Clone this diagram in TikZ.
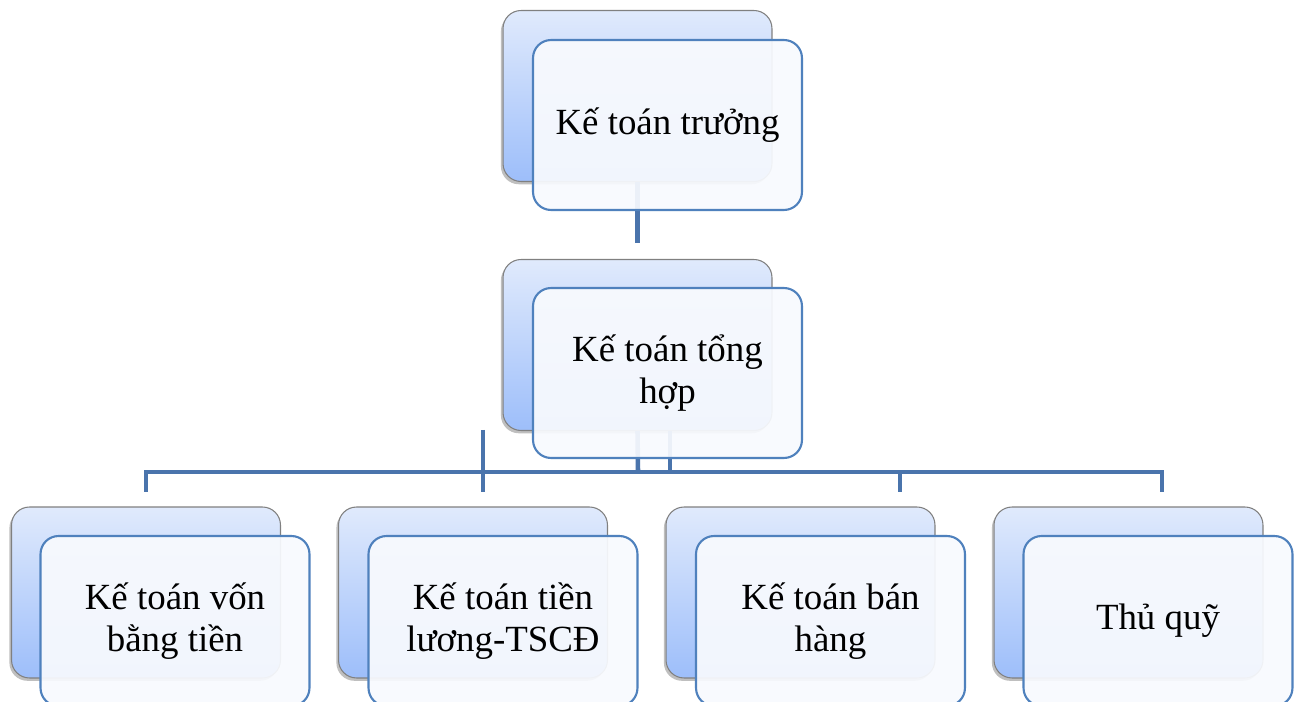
\documentclass[tikz,border=0pt]{standalone}
\usepackage{fontspec}
\setmainfont{Liberation Serif}
\usetikzlibrary{shadows}

\definecolor{linkblue}{HTML}{4A74AC}
\definecolor{frameblue}{HTML}{4F81BD}
\definecolor{backtop}{HTML}{E0EAFC}
\definecolor{backbot}{HTML}{9DBEFA}
\definecolor{frontfill}{HTML}{F8FAFE}

\tikzset{
  backbox/.style={rectangle, rounded corners=0.36cm, minimum width=5.38cm, minimum height=3.42cm,
    draw=gray, line width=0.6pt, top color=backtop, bottom color=backbot,
    drop shadow={shadow xshift=-1.2pt, shadow yshift=-1.6pt, opacity=0.5}},
  frontbox/.style={rectangle, rounded corners=0.36cm, minimum width=5.38cm, minimum height=3.4cm,
    draw=frameblue, line width=1.2pt, fill=frontfill, fill opacity=0.93, text opacity=1,
    align=center, font=\fontsize{21}{23.5}\selectfont},
  link/.style={draw=linkblue, line width=2.6pt}
}

\begin{document}
\begin{tikzpicture}[x=0.02cm, y=-0.02cm]
    \useasboundingbox (0,0) rectangle (1299,702);
    \fill[white] (0,0) rectangle (1299,702);
    \clip (0,0) rectangle (1299,702);

    % back cards
    \node[backbox] (truong-b) at (637.5,96) {};
    \node[backbox] (tonghop-b) at (637.5,345) {};
    \node[backbox] (von-b) at (146,592.5) {};
    \node[backbox] (luong-b) at (473,592.5) {};
    \node[backbox] (banhang-b) at (800.5,592.5) {};
    \node[backbox] (thuquy-b) at (1128.5,592.5) {};

    % connectors
    \coordinate (t0) at (637.5,243);
    \coordinate (j1) at (638,472);
    \coordinate (j2) at (670,472);
    \coordinate (b1) at (146,472);
    \coordinate (b4) at (1162,472);
    \coordinate (d1) at (146,492);
    \coordinate (d4) at (1162,492);
    \coordinate (b3) at (900,472);
    \coordinate (d3) at (900,492);
    \coordinate (u2) at (483,430);
    \coordinate (d2) at (483,492);

    \draw[link] (truong-b.south) -- (t0);
    \draw[link] (tonghop-b.south) -- (j1);
    \draw[link] (tonghop-b.south -| j2) -- (j2);
    \draw[link] (d1) -- (b1) -- (b4) -- (d4);
    \draw[link] (u2) -- (d2);
    \draw[link] (b3) -- (d3);

    % front cards
    \node[frontbox] (truong) at (667.5,125) {Kế toán trưởng};
    \node[frontbox] (tonghop) at (667.5,373) {Kế toán tổng\\hợp};
    \node[frontbox] (von) at (175,621) {Kế toán vốn\\bằng tiền};
    \node[frontbox] (luong) at (503,621) {Kế toán tiền\\lương-TSCĐ};
    \node[frontbox] (banhang) at (830.5,621) {Kế toán bán\\hàng};
    \node[frontbox] (thuquy) at (1158,621) {Thủ quỹ};

\end{tikzpicture}
\end{document}
